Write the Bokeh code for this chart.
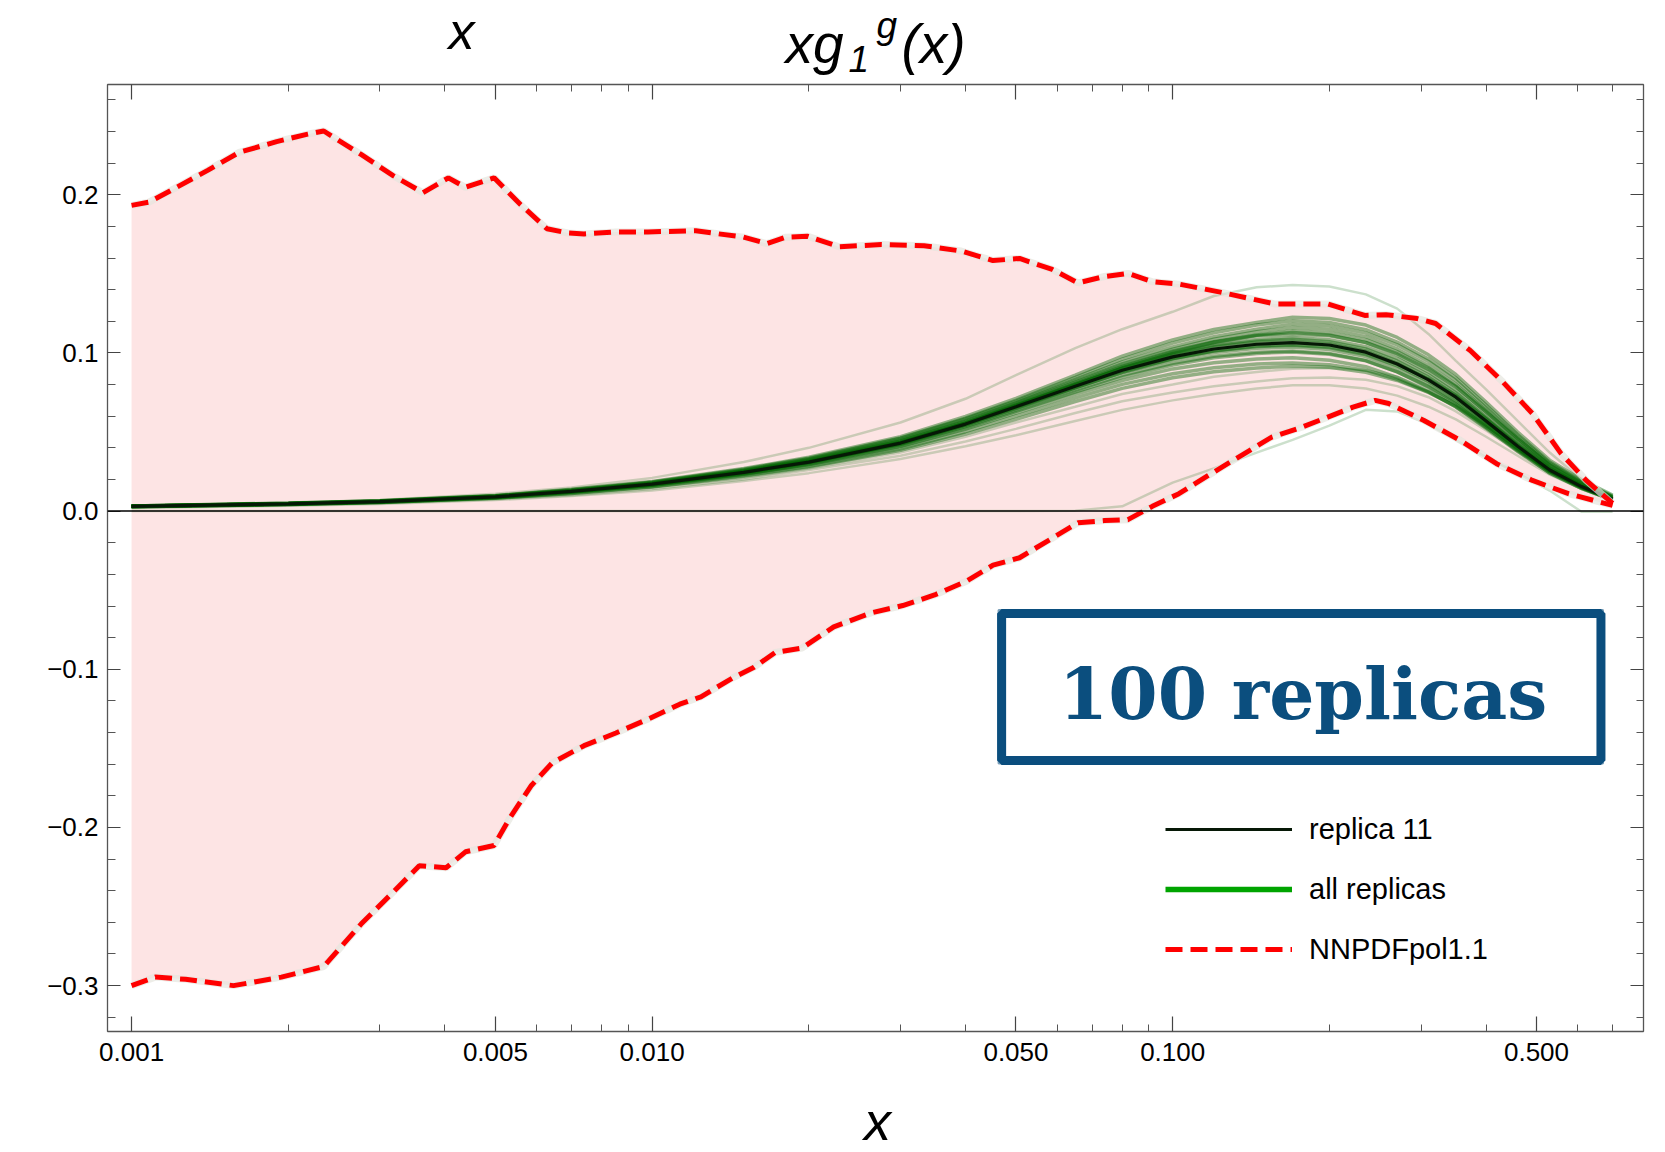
from bokeh.plotting import figure
from bokeh.layouts import column
from bokeh.models import (FixedTicker, LogAxis, LinearAxis, Label, Legend, LegendItem,
                          Range1d, CustomJSTickFormatter, Span)
from bokeh.embed import file_html
from bokeh.resources import INLINE

# ---------------- data ----------------
x_grid = [0.001, 0.002, 0.003, 0.005, 0.007, 0.01, 0.015, 0.02, 0.03, 0.04, 0.05, 0.065, 0.08,
          0.1, 0.12, 0.145, 0.17, 0.2, 0.235, 0.27, 0.31, 0.35, 0.4, 0.46, 0.53, 0.61, 0.7]

replica11 = [0.0030, 0.0046, 0.0060, 0.0090, 0.0125, 0.0170, 0.0245, 0.0310, 0.0430, 0.0550,
             0.0660, 0.0790, 0.0890, 0.0975, 0.1025, 0.1055, 0.1065, 0.1050, 0.1005, 0.0930,
             0.0830, 0.0720, 0.0570, 0.0410, 0.0260, 0.0155, 0.0075]

# replicas far from the bulk (drawn fainter)
replicas_outer = [
    [.003, .005, .007, .011, .015, .021, .031, .040, .056, .071, .086, .103, .115, .126, .136, .1415, .143, .142, .137, .128, .112, .095, .077, .057, .037, .020, .009],
    [.0020, .0034, .0045, .0070, .0095, .013, .019, .024, .033, .041, .048, .057, .064, .070, .074, .0775, .0795, .0795, .0775, .073, .066, .058, .047, .035, .023, .014, .007],
    [.0022, .0037, .005, .0075, .010, .014, .020, .026, .035, .044, .052, .062, .0695, .075, .079, .082, .084, .0845, .083, .079, .072, .063, .051, .038, .025, .015, .0075],
    [.0024, .004, .0053, .008, .0108, .015, .021, .027, .037, .047, .056, .066, .074, .080, .085, .088, .090, .0905, .089, .085, .077, .068, .055, .041, .027, .016, .0075],
    [.0001, .0001, .0001, .0001, .0001, .0001, .0001, .0001, .0001, .0001, .0001, .0003, .003, .018, .027, .037, .045, .054, .064, .063, .055, .045, .034, .024, .013, -.0004, -.0004],
]

# replicas in the bulk of the band
replicas_core = [
    [.0033, .0051, .0066, .0099, .0138, .0187, .0269, .0340, .0470, .0598, .0713, .0860, .0979, .1082, .1148, .1193, .1225, .1218, .1176, .1098, .0988, .0864, .0690, .0500, .0322, .0198, .0101],
    [.0032, .0049, .0064, .0096, .0134, .0182, .0262, .0331, .0459, .0583, .0693, .0833, .0943, .1038, .1102, .1150, .1182, .1172, .1126, .1051, .0946, .0826, .0655, .0472, .0302, .0183, .0092],
    [.0031, .0048, .0062, .0094, .0130, .0177, .0255, .0321, .0444, .0567, .0680, .0816, .0921, .1013, .1071, .1113, .1140, .1128, .1084, .1008, .0906, .0790, .0627, .0451, .0287, .0172, .0084],
    [.0031, .0047, .0061, .0092, .0127, .0173, .0250, .0316, .0437, .0558, .0670, .0803, .0906, .0995, .1050, .1085, .1097, .1083, .1039, .0964, .0862, .0749, .0593, .0427, .0271, .0162, .0079],
    [.0029, .0045, .0058, .0087, .0121, .0165, .0238, .0301, .0417, .0534, .0640, .0764, .0858, .0935, .0979, .1004, .1012, .0996, .0952, .0880, .0783, .0677, .0533, .0381, .0241, .0144, .0070],
    [.0029, .0044, .0057, .0086, .0119, .0162, .0232, .0294, .0406, .0518, .0620, .0739, .0826, .0899, .0938, .0962, .0969, .0954, .0913, .0845, .0756, .0658, .0523, .0377, .0240, .0143, .0069],
    [.0028, .0042, .0055, .0083, .0115, .0156, .0225, .0284, .0393, .0502, .0601, .0716, .0801, .0868, .0906, .0930, .0937, .0926, .0891, .0833, .0752, .0660, .0530, .0387, .0249, .0150, .0073],
    [.0027, .0041, .0054, .0081, .0112, .0153, .0220, .0278, .0384, .0487, .0581, .0693, .0776, .0843, .0881, .0905, .0916, .0909, .0878, .0826, .0750, .0665, .0543, .0400, .0256, .0153, .0074],
    [.0032, .0048, .0063, .0095, .0131, .0179, .0257, .0326, .0450, .0573, .0686, .0823, .0930, .1024, .1086, .1134, .1161, .1150, .1103, .1025, .0920, .0802, .0637, .0459, .0292, .0175, .0085],
    [.0030, .0046, .0060, .0091, .0126, .0171, .0247, .0313, .0434, .0556, .0667, .0799, .0900, .0986, .1037, .1067, .1076, .1060, .1013, .0936, .0834, .0723, .0572, .0411, .0261, .0156, .0076],
    [.0029, .0045, .0059, .0088, .0123, .0167, .0241, .0305, .0424, .0542, .0650, .0779, .0878, .0963, .1014, .1045, .1054, .1040, .0998, .0928, .0835, .0731, .0584, .0422, .0269, .0161, .0078],
    [.0032, .0050, .0065, .0097, .0135, .0184, .0265, .0335, .0462, .0588, .0700, .0845, .0961, .1063, .1128, .1177, .1203, .1193, .1147, .1069, .0962, .0842, .0670, .0484, .0310, .0188, .0095],
    [.0030, .0046, .0061, .0091, .0126, .0172, .0247, .0312, .0432, .0552, .0662, .0797, .0905, .1001, .1066, .1108, .1118, .1108, .1066, .0995, .0896, .0785, .0628, .0459, .0294, .0178, .0088],
    [.0029, .0044, .0058, .0086, .0120, .0163, .0235, .0297, .0411, .0525, .0630, .0753, .0846, .0924, .0969, .0997, .1006, .0992, .0950, .0880, .0789, .0688, .0546, .0394, .0250, .0149, .0072],
    [.0031, .0047, .0062, .0093, .0129, .0175, .0252, .0319, .0442, .0563, .0673, .0808, .0915, .1006, .1067, .1112, .1129, .1113, .1065, .0986, .0880, .0763, .0604, .0435, .0276, .0164, .0080],
    [.0030, .0046, .0059, .0089, .0124, .0168, .0243, .0307, .0426, .0545, .0653, .0780, .0877, .0957, .1003, .1030, .1038, .1022, .0977, .0903, .0805, .0698, .0553, .0398, .0252, .0150, .0073],
    [.0030, .0046, .0061, .0091, .0126, .0172, .0247, .0313, .0434, .0556, .0667, .0800, .0902, .0992, .1045, .1076, .1086, .1071, .1025, .0949, .0847, .0734, .0581, .0418, .0265, .0158, .0077],
    [.0030, .0046, .0060, .0090, .0124, .0169, .0244, .0308, .0428, .0547, .0657, .0785, .0883, .0964, .1012, .1040, .1049, .1034, .0990, .0918, .0820, .0712, .0564, .0406, .0257, .0153, .0074],
]

x_upper = [0.001, 0.00108, 0.00121, 0.0014, 0.00161, 0.0019, 0.00218, 0.00234, 0.00276, 0.00318,
           0.00363, 0.00406, 0.00438, 0.00497, 0.00558, 0.00628, 0.00689, 0.0074, 0.00852, 0.00982,
           0.01213, 0.01498, 0.01661, 0.01807, 0.01986, 0.02287, 0.02759, 0.0333, 0.03924, 0.04517,
           0.0508, 0.0585, 0.06578, 0.07399, 0.08204, 0.09141, 0.1028, 0.1241, 0.1569, 0.1984,
           0.2339, 0.2569, 0.295, 0.32, 0.373, 0.428, 0.491, 0.557, 0.623, 0.70]
nnpdf_upper = [0.1933, 0.1953, 0.204, 0.2154, 0.2268, 0.2336, 0.2383, 0.2403, 0.2255, 0.2121,
               0.2013, 0.2107, 0.2047, 0.2107, 0.194, 0.1785, 0.1758, 0.1752, 0.1765, 0.1765,
               0.1772, 0.1732, 0.1691, 0.1732, 0.1738, 0.1671, 0.1685, 0.1678, 0.1644, 0.1584,
               0.1597, 0.153, 0.1443, 0.1483, 0.1503, 0.145, 0.1435, 0.1383, 0.131, 0.131,
               0.1237, 0.1242, 0.1217, 0.1186, 0.1015, 0.0826, 0.0617, 0.0365, 0.0194, 0.0049]

x_lower = [0.001, 0.00111, 0.00127, 0.00157, 0.00194, 0.00234, 0.00276, 0.00318, 0.00357, 0.00402,
           0.00438, 0.00497, 0.00533, 0.00585, 0.00643, 0.0074, 0.00852, 0.00982, 0.0113, 0.01241,
           0.01429, 0.0157, 0.01725, 0.0194, 0.02233, 0.02632, 0.0303, 0.03488, 0.04017, 0.04517,
           0.0508, 0.0585, 0.06578, 0.07399, 0.08204, 0.0914, 0.1028, 0.12, 0.155, 0.177,
           0.222, 0.245, 0.26, 0.304, 0.357, 0.419, 0.491, 0.576, 0.70]
nnpdf_lower = [-0.300, -0.2946, -0.296, -0.300, -0.2946, -0.2879, -0.2611, -0.2409, -0.2242, -0.2255,
               -0.2154, -0.2114, -0.194, -0.1738, -0.1591, -0.1483, -0.1403, -0.1315, -0.1221, -0.1174,
               -0.1054, -0.0987, -0.0893, -0.0866, -0.0732, -0.0644, -0.0597, -0.053, -0.0443, -0.0342,
               -0.0295, -0.0174, -0.0074, -0.006, -0.0054, 0.003, 0.011, 0.0247, 0.0468, 0.053,
               0.0657, 0.070, 0.068, 0.0573, 0.0447, 0.030, 0.0194, 0.011, 0.0036]

x_major_ticks = [0.001, 0.005, 0.01, 0.05, 0.1, 0.5]
x_minor_ticks = [0.002, 0.003, 0.004, 0.006, 0.007, 0.008, 0.009,
                 0.02, 0.03, 0.04, 0.06, 0.07, 0.08, 0.09,
                 0.2, 0.3, 0.4, 0.6, 0.7]
y_major_ticks = [-0.3, -0.2, -0.1, 0.0, 0.1, 0.2]
y_minor_ticks = [-0.32, -0.28, -0.26, -0.24, -0.22, -0.18, -0.16, -0.14, -0.12, -0.08, -0.06,
                 -0.04, -0.02, 0.02, 0.04, 0.06, 0.08, 0.12, 0.14, 0.16, 0.18, 0.22, 0.24, 0.26]

# ---------------- layout / styles ----------------
W, H = 1665, 1152
TOP_H, BOT_H = 81, 72                      # title strip / x-label strip heights
MAIN_H = H - TOP_H - BOT_H
FL, FR = 107, 22
FT = 84 - TOP_H                            # frame top inside main figure
FB = (H - BOT_H) - 1031                    # frame bottom border inside main figure
FONT = "Liberation Sans"
GREEN = "#006400"
BLUE = "#0b4e7e"
BASELINE_FIX = 0.34                        # em; bokeh's alphabetic baseline sits lower

p = figure(width=W, height=MAIN_H, x_axis_type="log", output_backend="svg", toolbar_location=None,
           x_range=Range1d(0.000899, 0.8026), y_range=Range1d(-0.329, 0.2697),
           min_border_left=FL, min_border_right=FR, min_border_top=FT, min_border_bottom=FB)
p.xgrid.visible = False
p.ygrid.visible = False
p.outline_line_color = "#555555"
p.background_fill_color = "white"
p.border_fill_color = "white"

xt = FixedTicker(ticks=x_major_ticks, minor_ticks=x_minor_ticks)
yt = FixedTicker(ticks=y_major_ticks, minor_ticks=y_minor_ticks)
xfmt = CustomJSTickFormatter(code="return tick.toFixed(3);")
yfmt = CustomJSTickFormatter(code="return tick.toFixed(1).replace('-', '\u2212');")
blank = CustomJSTickFormatter(code="return '';")


def style_axis(ax, major_len, minor_len):
    ax.axis_line_color = "#555555"
    ax.axis_line_width = 1.3
    ax.major_tick_in = major_len
    ax.major_tick_out = 0
    ax.minor_tick_in = minor_len
    ax.minor_tick_out = 0
    ax.major_tick_line_color = "#444444"
    ax.minor_tick_line_color = "#555555"
    ax.major_tick_line_width = 1.2
    ax.minor_tick_line_width = 1.0
    ax.major_label_text_font = FONT
    ax.major_label_text_font_size = "26px"
    ax.major_label_text_color = "black"


bx = p.xaxis[0]
bx.ticker = xt
bx.formatter = xfmt
style_axis(bx, 15, 7)
bx.major_label_standoff = 11

ly = p.yaxis[0]
ly.ticker = yt
ly.formatter = yfmt
style_axis(ly, 13, 8)
ly.major_label_standoff = 9

tx = LogAxis(ticker=xt, formatter=blank)
style_axis(tx, 15, 7)
tx.major_label_text_font_size = "1px"
tx.major_label_standoff = 0
p.add_layout(tx, "above")
ry = LinearAxis(ticker=yt, formatter=blank)
style_axis(ry, 13, 7)
ry.major_label_text_font_size = "1px"
ry.major_label_standoff = 0
p.add_layout(ry, "right")

# ---------------- marks ----------------
p.patch(x=x_upper + x_lower[::-1], y=nnpdf_upper + nnpdf_lower[::-1],
        fill_color="#fde4e4", line_color=None)

p.multi_line(xs=[x_grid] * len(replicas_outer), ys=replicas_outer, line_color=GREEN,
             line_alpha=0.2, line_width=2.5)
p.multi_line(xs=[x_grid] * len(replicas_core), ys=replicas_core, line_color=GREEN,
             line_alpha=0.42, line_width=3.5)
r11 = p.line(x_grid, replica11, line_color="#061806", line_width=3.2)

for xs_, ys_ in ((x_upper, nnpdf_upper), (x_lower, nnpdf_lower)):
    p.line(xs_, ys_, line_color="#e6e6de", line_width=7, line_alpha=0.7)
red_up = p.line(x_upper, nnpdf_upper, line_color="#ff0000", line_width=5, line_dash="17 8")
p.line(x_lower, nnpdf_lower, line_color="#ff0000", line_width=5, line_dash="17 8")

p.add_layout(Span(location=0, dimension="width", line_color="black", line_width=1.5))

# legend-only sample for "all replicas" (NaN data: nothing drawn in the plot)
green_leg = p.line(x_grid[:2], [float("nan")] * 2, line_color="#00a400", line_width=5.5)

# ---------------- "100 replicas" stamp ----------------
p.quad(left=[0.04692], right=[0.6649], top=[-0.0647], bottom=[-0.1576],
       fill_color="white", line_color=BLUE, line_width=9)
p.quad(left=[0.0463], right=[0.671], top=[-0.0625], bottom=[-0.1595],
       fill_color=None, line_color=BLUE, line_width=2, line_alpha=0.55)
p.quad(left=[0.0477], right=[0.658], top=[-0.0668], bottom=[-0.1556],
       fill_color=None, line_color=BLUE, line_width=1.5, line_alpha=0.45)
p.add_layout(Label(x=0.178, y=-0.1157, text="100 replicas", text_align="center",
                   text_baseline="alphabetic", text_font="DejaVu Serif", text_font_style="bold",
                   text_font_size="71px", text_color=BLUE))

# ---------------- legend ----------------
legend = Legend(items=[LegendItem(label="replica 11", renderers=[r11]),
                       LegendItem(label="all replicas", renderers=[green_leg]),
                       LegendItem(label="NNPDFpol1.1", renderers=[red_up])],
                location=(1058, 62), orientation="vertical", glyph_width=127, glyph_height=40,
                label_height=40, spacing=20, padding=0, margin=0, label_standoff=17,
                label_text_font=FONT, label_text_font_size="29px", label_text_color="black",
                border_line_color=None, background_fill_alpha=0)
p.add_layout(legend)


# ---------------- title strip and x-label strip (absolute pixel coordinates) ----------------
def strip(y0, y1):
    f = figure(width=W, height=y1 - y0, output_backend="svg", toolbar_location=None,
               x_range=Range1d(FL, W - FR), y_range=Range1d(y1, y0),
               x_axis_location=None, y_axis_location=None,
               min_border_left=FL, min_border_right=FR,
               min_border_top=0, min_border_bottom=0)
    f.xgrid.visible = False
    f.ygrid.visible = False
    f.outline_line_color = None
    f.background_fill_color = "white"
    f.border_fill_color = "white"
    return f


def lab(f, text, X, Y, size, align="left"):
    f.add_layout(Label(x=X, y=Y - BASELINE_FIX * size, text=text, text_align=align,
                       text_baseline="alphabetic", text_font=FONT, text_font_style="italic",
                       text_font_size=f"{size}px", text_color="black"))


top = strip(0, TOP_H)
lab(top, "x", 461, 48, 52, "center")
lab(top, "xg", 785, 62, 55)
lab(top, "1", 848, 71, 37)
lab(top, "g", 876, 38, 37)
lab(top, "(x)", 901, 62, 55)

bot = strip(H - BOT_H, H)
lab(bot, "x", 877, 1139, 54, "center")

layout = column(top, p, bot, spacing=0)
open("out.html", "w").write(file_html(layout, INLINE))
